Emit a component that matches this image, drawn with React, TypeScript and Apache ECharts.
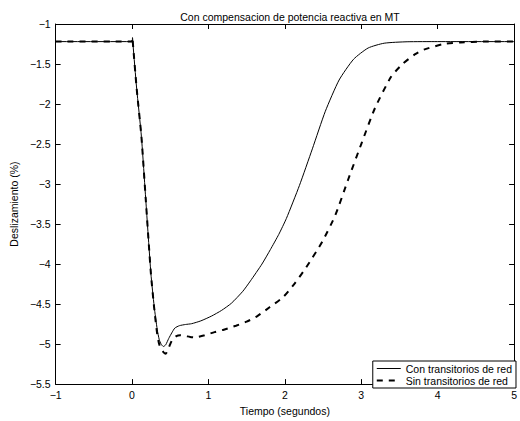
import React, { useEffect, useRef } from 'react';
import * as echarts from 'echarts';

const titleText = 'Con compensacion de potencia reactiva en MT';
const xName = 'Tiempo (segundos)';
const yName = 'Deslizamiento (%)';
const seriesNames = ['Con transitorios de red', 'Sin transitorios de red'];

const tCon = [-1, 0, 0.006, 0.012, 0.06, 0.123, 0.18, 0.247, 0.29, 0.33, 0.355, 0.38, 0.41, 0.44, 0.48, 0.52, 0.56, 0.62, 0.7, 0.78, 0.9, 1.04, 1.17, 1.3, 1.45, 1.55, 1.7, 1.81, 1.92, 2.02, 2.19, 2.36, 2.53, 2.71, 2.9, 3.09, 3.3, 3.6, 4.0, 5.0];
const vCon = [-1.22, -1.22, -1.17, -1.25, -1.8, -2.41, -3.2, -4.12, -4.53, -4.82, -4.94, -5.0, -5.03, -5.01, -4.93, -4.86, -4.8, -4.77, -4.755, -4.745, -4.71, -4.65, -4.58, -4.49, -4.34, -4.21, -4.0, -3.82, -3.63, -3.43, -3.02, -2.56, -2.09, -1.7, -1.44, -1.3, -1.24, -1.222, -1.22, -1.22];

const tSin = [-1, 0, 0.006, 0.012, 0.06, 0.123, 0.18, 0.247, 0.29, 0.33, 0.355, 0.38, 0.41, 0.44, 0.47, 0.5, 0.53, 0.58, 0.63, 0.7, 0.76, 0.82, 0.95, 1.08, 1.2, 1.36, 1.5, 1.64, 1.8, 1.98, 2.13, 2.28, 2.49, 2.66, 2.83, 3.0, 3.18, 3.39, 3.54, 3.7, 3.82, 4.08, 4.3, 4.6, 5.0];
const vSin = [-1.22, -1.22, -1.17, -1.25, -1.8, -2.41, -3.2, -4.12, -4.55, -4.88, -5.0, -5.06, -5.1, -5.12, -5.07, -5.0, -4.94, -4.9, -4.89, -4.9, -4.91, -4.915, -4.89, -4.85, -4.82, -4.77, -4.72, -4.65, -4.54, -4.41, -4.24, -4.04, -3.72, -3.39, -2.94, -2.5, -2.05, -1.66, -1.5, -1.38, -1.32, -1.25, -1.23, -1.22, -1.22];

const xMin = -1, xMax = 5, xStep = 1;
const yMin = -5.5, yMax = -1, yStep = 0.5;

const FONT = '"Liberation Sans", Arial, Helvetica, sans-serif';
const fmt = (v: number) => String(Math.round(v * 100) / 100).replace('-', '\u2212');

export default function App() {
  const ref = useRef<HTMLDivElement>(null);
  useEffect(() => {
    const chart = echarts.init(ref.current!, undefined, { renderer: 'svg' });
    const axisCommon = {
      type: 'value' as const,
      axisLine: { show: true, onZero: false, lineStyle: { color: '#000', width: 1 } },
      axisTick: { show: true, inside: true, length: 5, lineStyle: { color: '#000', width: 1 } },
      splitLine: { show: false },
    };
    chart.setOption({
      animation: false,
      backgroundColor: '#fff',
      textStyle: { fontFamily: FONT },
      title: {
        text: titleText,
        left: 285,
        textAlign: 'center',
        top: 6,
        textStyle: { fontSize: 10.5, fontWeight: 'normal', color: '#000', fontFamily: FONT },
      },
      grid: { left: 51, right: 1, top: 24, bottom: 28 },
      xAxis: [
        {
          ...axisCommon,
          position: 'bottom',
          min: xMin, max: xMax, interval: xStep,
          axisLabel: { margin: 5, fontSize: 10.5, color: '#000', fontFamily: FONT, formatter: fmt },
          name: xName,
          nameLocation: 'middle',
          nameGap: 17,
          nameTextStyle: { fontSize: 10.5, color: '#000', fontFamily: FONT },
        },
        {
          ...axisCommon,
          position: 'top',
          min: xMin, max: xMax, interval: xStep,
          axisLabel: { show: false },
        },
      ],
      yAxis: [
        {
          ...axisCommon,
          position: 'left',
          min: yMin, max: yMax, interval: yStep,
          axisLabel: { margin: 5, fontSize: 10.5, color: '#000', fontFamily: FONT, formatter: fmt },
          name: yName,
          nameLocation: 'middle',
          nameGap: 28,
          nameTextStyle: { fontSize: 10.5, color: '#000', fontFamily: FONT },
        },
        {
          ...axisCommon,
          position: 'right',
          min: yMin, max: yMax, interval: yStep,
          axisLabel: { show: false },
        },
      ],
      legend: {
        orient: 'vertical',
        right: 4,
        bottom: 33,
        itemWidth: 24,
        itemHeight: 10,
        itemGap: 1,
        padding: [2, 4, 2, 3],
        borderColor: '#000',
        borderWidth: 1,
        backgroundColor: '#fff',
        textStyle: { fontSize: 10.5, color: '#000', fontFamily: FONT },
        itemStyle: { opacity: 0 },
        data: [
          { name: seriesNames[0], itemStyle: { opacity: 0 }, lineStyle: { color: '#000', width: 1, type: 'solid' } },
          { name: seriesNames[1], itemStyle: { opacity: 0 }, lineStyle: { color: '#000', width: 2, type: [6, 6] } },
        ],
      },
      series: [
        {
          name: seriesNames[0],
          type: 'line',
          showSymbol: false,
          symbol: 'none',
          smooth: 0.2,
          data: tCon.map((t, i) => [t, vCon[i]]),
          lineStyle: { color: '#000', width: 1 },
          itemStyle: { color: '#000' },
          z: 3,
        },
        {
          name: seriesNames[1],
          type: 'line',
          showSymbol: false,
          symbol: 'none',
          smooth: 0.2,
          data: tSin.map((t, i) => [t, vSin[i]]),
          lineStyle: { color: '#000', width: 2, type: [6, 6] },
          itemStyle: { color: '#000' },
          z: 4,
        },
      ],
    });
    return () => chart.dispose();
  }, []);
  return <div ref={ref} style={{ position: 'fixed', left: 0, top: 0, width: 520, height: 421 }} />;
}
